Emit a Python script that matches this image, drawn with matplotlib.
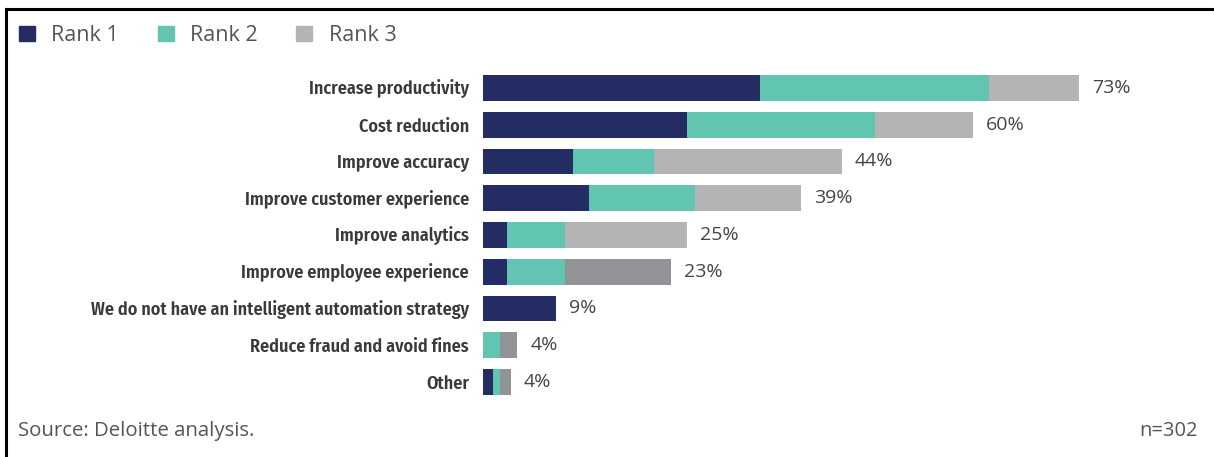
import matplotlib.pyplot as plt
from matplotlib.patches import Patch
from matplotlib.lines import Line2D

categories = ["Increase productivity", "Cost reduction", "Improve accuracy",
              "Improve customer experience", "Improve analytics",
              "Improve employee experience",
              "We do not have an intelligent automation strategy",
              "Reduce fraud and avoid fines", "Other"]
rank1 = [34, 25, 11, 13, 3, 3, 9, 0, 1.2]
rank2 = [28, 23, 10, 13, 7, 7, 0, 2.05, 0.9]
rank3 = [11, 12, 23, 13, 15, 13, 0, 2.15, 1.3]
totals = ["73%", "60%", "44%", "39%", "25%", "23%", "9%", "4%", "4%"]
series_names = ["Rank 1", "Rank 2", "Rank 3"]

navy = "#232c63"
teal = "#62c5b2"
gray = "#b3b4b6"
dark_gray = "#929397"
# a few rows use the darker grey for rank 3
rank3_colors = [gray, gray, gray, gray, gray, dark_gray, gray, dark_gray, dark_gray]

cond = ["Fira Sans Condensed", "Open Sans", "DejaVu Sans"]

W, H = 1214, 457
fig = plt.figure(figsize=(W / 100, H / 100), dpi=100)
scale = 8.16  # px per percent
left_px, top_px = 483, 69.6
row_px = 36.75
ax = fig.add_axes([left_px / W, 1 - (top_px + 9 * row_px) / H,
                   80 * scale / W, 9 * row_px / H])

y = list(range(len(categories)))
lefts3 = [a + b for a, b in zip(rank1, rank2)]
ax.barh(y, rank1, height=0.7, color=navy)
ax.barh(y, rank2, left=rank1, height=0.7, color=teal)
ax.barh(y, rank3, left=lefts3, height=0.7, color=rank3_colors)

ends = [a + b + c for a, b, c in zip(rank1, rank2, rank3)]
for yi, e, t in zip(y, ends, totals):
    ax.annotate(t, (e, yi), xytext=(13, 0), textcoords="offset pixels",
                va="center", ha="left", fontsize=14, color="#454545",
                family=["Open Sans", "DejaVu Sans"])

ax.set_xlim(0, 80)
ax.set_ylim(len(categories) - 0.5, -0.5)
ax.set_yticks(y)
ax.set_yticklabels(categories, fontsize=13, fontweight="semibold", color="#3a3a3a",
                   family=cond, fontstretch="condensed")
ax.tick_params(axis="y", length=0, pad=10)
ax.set_xticks([])
for s in ax.spines.values():
    s.set_visible(False)

handles = [Patch(color=c) for c in [navy, teal, gray]]
fig.legend(handles, series_names, loc="center left", bbox_to_anchor=(-0.5 / W, 1 - 35.5 / H),
           ncol=3, frameon=False, handlelength=0.75, handleheight=0.75,
           handletextpad=0.75, columnspacing=1.8, labelcolor="#555555",
           prop={"family": "Open Sans", "size": 15.5})

fig.text(18 / W, 1 - 431 / H, "Source: Deloitte analysis.", fontsize=14.7,
         color="#555555", family="Open Sans", va="center", ha="left")
fig.text(1198 / W, 1 - 431 / H, "n=302", fontsize=14.5,
         color="#555555", family="Open Sans", va="center", ha="right")

fig.add_artist(Line2D([6 / W, 1], [1 - 9 / H, 1 - 9 / H], color="black", lw=2.2))
fig.add_artist(Line2D([6 / W, 6 / W], [0, 1 - 9 / H], color="black", lw=2.2))

fig.savefig("out.png", dpi=100)
